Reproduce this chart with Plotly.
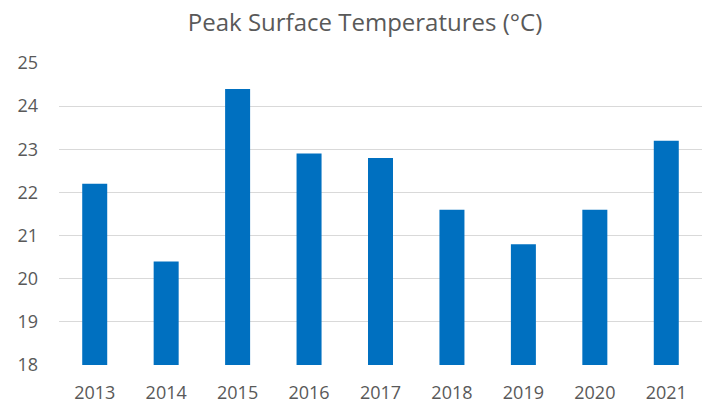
import plotly.graph_objects as go

years = ["2013", "2014", "2015", "2016", "2017", "2018", "2019", "2020", "2021"]
temps = [22.2, 20.4, 24.4, 22.9, 22.8, 21.6, 20.8, 21.6, 23.2]
y_ticks = [18, 19, 20, 21, 22, 23, 24, 25]

fig = go.Figure(go.Bar(x=years, y=temps, marker=dict(color="#0070C0", line=dict(width=0))))
fig.update_layout(
    width=702, height=404,
    margin=dict(l=59, r=0, t=63, b=39),
    paper_bgcolor="white", plot_bgcolor="white",
    bargap=0.65,
    showlegend=False,
    font=dict(family="Open Sans", color="#595959", size=16),
    title=dict(text="Peak Surface Temperatures (°C)", x=0.52, xanchor="center",
               y=0.945, yanchor="middle", font=dict(size=24, color="#595959")),
    xaxis=dict(type="category", showgrid=False, showline=False, ticks="",
               tickfont=dict(size=18), ticklabelstandoff=15),
    yaxis=dict(range=[18, 25], tickvals=y_ticks, showgrid=True, gridcolor="#D9D9D9",
               gridwidth=1, zeroline=False, showline=False, ticks="",
               ticklabelstandoff=20, tickfont=dict(size=18)),
)
fig.write_html("out.html", config={"displayModeBar": False},
               post_script="document.body.style.margin='0';")
